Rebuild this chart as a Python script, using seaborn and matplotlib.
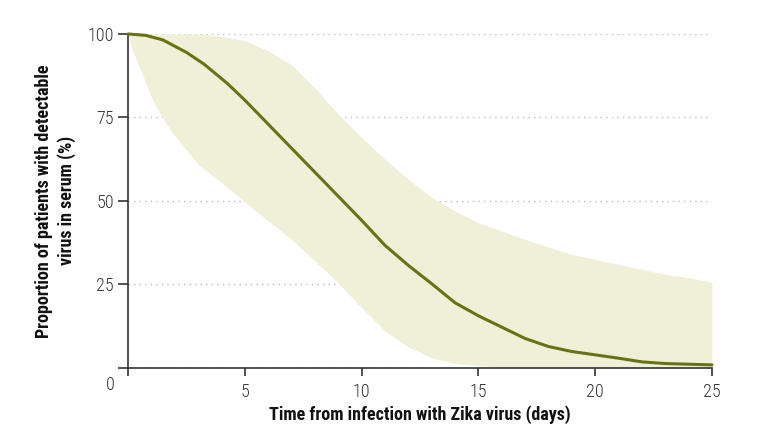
import matplotlib
matplotlib.use("Agg")
import matplotlib.pyplot as plt
from matplotlib import font_manager
import pandas as pd
import seaborn as sns

# central estimate: proportion with detectable virus in serum (%)
days = [0, 0.75, 1.5, 2.5, 3.25, 4.25, 5, 6, 7, 8, 9, 10, 11, 12, 13, 14, 15,
        16, 17, 18, 19, 20, 21, 22, 23, 24, 25]
detectable = [100, 99.6, 98.2, 94.5, 91.0, 85.2, 80.2, 73.0, 65.8, 58.6, 51.4,
              44.2, 36.7, 30.7, 25.2, 19.5, 15.6, 12.2, 8.8, 6.4, 4.9, 3.9,
              2.9, 1.8, 1.3, 1.1, 0.9]

# uncertainty band
band_days = [0, 0.15, 0.5, 1, 1.5, 2, 3, 4, 5, 6, 7, 8, 9, 10, 11, 12, 13,
             14, 15, 16, 17, 18, 19, 20, 21, 22, 23, 24, 25]
band_lower = [100, 96.0, 90.0, 81.0, 74.5, 69.5, 61.0, 55.5, 49.7, 44.0, 38.5,
              32.0, 25.5, 18.0, 11.0, 6.3, 3.0, 1.3, 0.6, 0.3, 0, 0, 0, 0, 0,
              0, 0, 0, 0]
band_upper = [100, 100, 100, 100, 100, 100, 100, 99.3, 98.0, 95.0, 90.8, 83.8,
              76.0, 69.0, 62.5, 56.5, 51.0, 47.0, 43.5, 41.0, 38.5, 36.2, 34.0,
              32.5, 31.0, 29.5, 28.0, 27.0, 25.7]

x_ticks = [0, 5, 10, 15, 20, 25]
y_ticks = [0, 25, 50, 75, 100]

line_color = "#687212"
band_color = "#f0f0d8"
axis_color = "#333333"

sns.set_style("ticks")

# pick a narrow typeface, close to the original's condensed one
names = {f.name for f in font_manager.fontManager.ttflist}
family = "DejaVu Sans"
for cand in ["Roboto Condensed", "Liberation Sans Narrow", "Open Sans Condensed"]:
    if cand in names:
        family = cand
        break
else:
    extra = sorted(n for n in names if "Condensed" in n or "Narrow" in n)
    if extra:
        family = extra[0]
light_family = family + " Light" if family + " Light" in names else family
plt.rcParams["font.family"] = [family, "DejaVu Sans"]

df = pd.DataFrame({"day": days, "pct": detectable})

fig = plt.figure(figsize=(7.71, 4.47), dpi=100)
ax = fig.add_axes([0.166, 0.177, 0.7575, 0.747])

ax.fill_between(band_days, band_lower, band_upper, color=band_color,
                linewidth=0, zorder=1)
sns.lineplot(data=df, x="day", y="pct", color=line_color, linewidth=2.2,
             ax=ax, zorder=3, clip_on=False)
ax.lines[-1].set_solid_joinstyle("round")

ax.set_xlim(0, 25)
ax.set_ylim(0, 100)
ax.set_xticks(x_ticks)
ax.set_xticklabels([""] + [str(t) for t in x_ticks[1:]])
ax.set_yticks(y_ticks)
ax.set_yticklabels([""] + [str(t) for t in y_ticks[1:]])

ax.grid(axis="y", linestyle=(0, (1, 3)), color="#bdbdbd", linewidth=1)
ax.set_axisbelow(True)

for side in ["top", "right"]:
    ax.spines[side].set_visible(False)
for side in ["left", "bottom"]:
    ax.spines[side].set_color(axis_color)
    ax.spines[side].set_linewidth(1.2)

ax.tick_params(axis="y", length=7, width=1.2, color=axis_color, pad=3,
               labelsize=13, labelcolor="#333333")
ax.tick_params(axis="x", length=6, width=1.2, color=axis_color, pad=5,
               labelsize=13, labelcolor="#333333")
for lab in ax.get_xticklabels() + ax.get_yticklabels():
    lab.set_family([light_family, "DejaVu Sans"])
    lab.set_fontweight("light")

ax.annotate("0", xy=(0, 0), xytext=(-18, -17), textcoords="offset pixels",
            ha="center", va="center", fontsize=13, color="#333333",
            family=[light_family, "DejaVu Sans"], fontweight="light")

ax.set_xlabel("Time from infection with Zika virus (days)", fontsize=13,
              fontweight="bold", color="#111111", labelpad=3)
ax.set_ylabel("Proportion of patients with detectable\nvirus in serum (%)",
              fontsize=13, fontweight="bold", color="#111111", labelpad=8,
              linespacing=1.3)

fig.savefig("out.png", dpi=100)
